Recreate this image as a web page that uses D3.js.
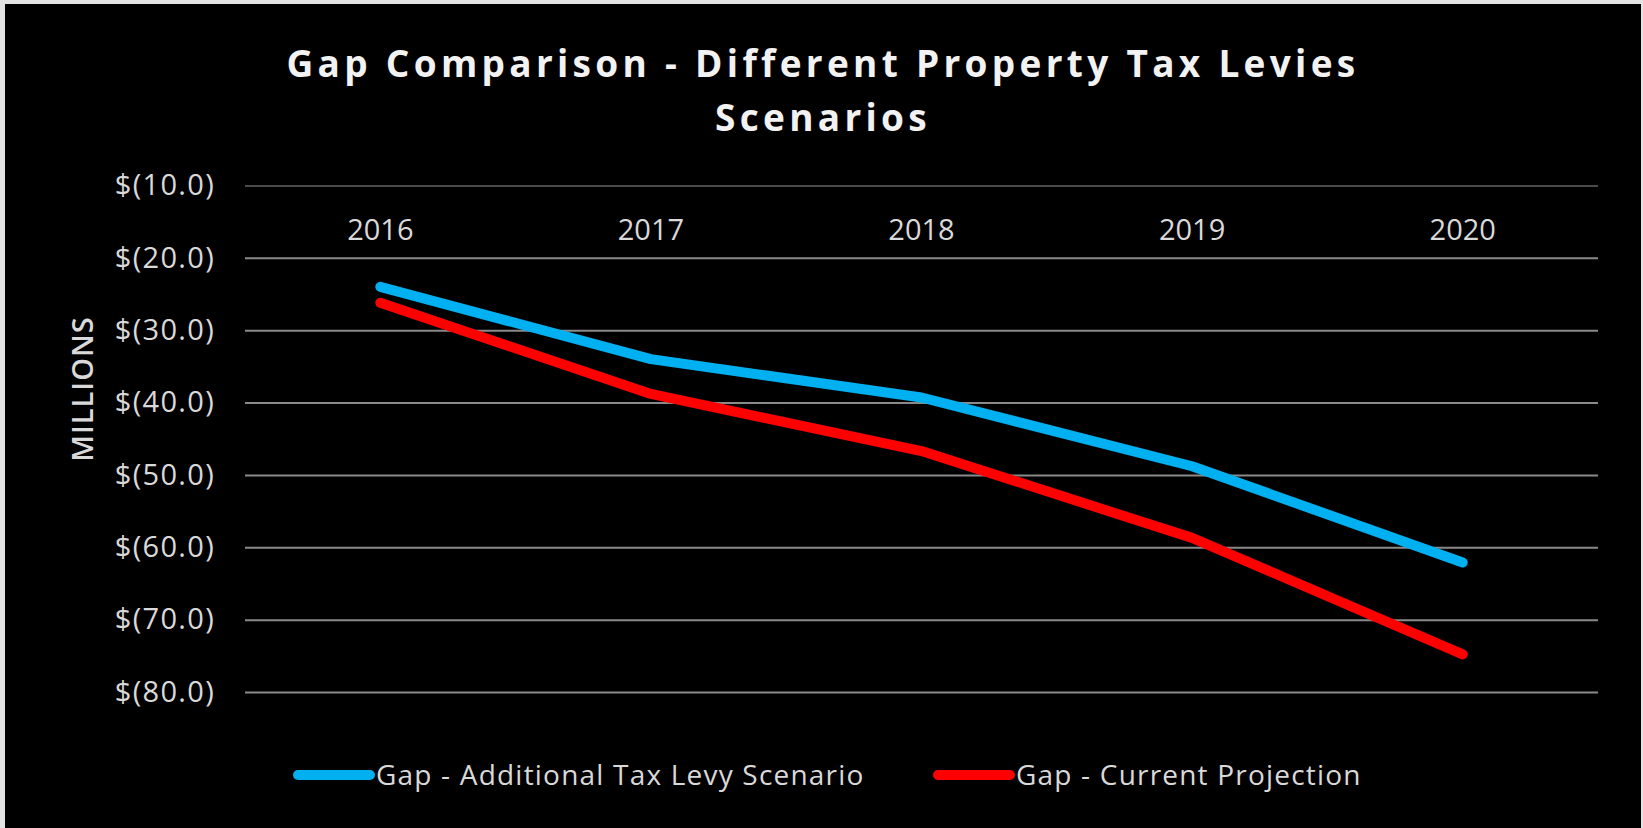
<!DOCTYPE html>
<html>
<head>
<meta charset="utf-8">
<script src="https://cdn.jsdelivr.net/npm/d3@7"></script>
<style>
  body { margin: 0; background: #e3e3e3; }
  svg { display: block; }
  text { font-family: "Open Sans", sans-serif; }
</style>
</head>
<body>
<div id="chart-area"></div>
<script>
// chart data
const years = ['2016', '2017', '2018', '2019', '2020'];
const additionalLevy = [-24.0, -34.0, -39.3, -48.8, -62.1];
const currentProjection = [-26.2, -38.8, -46.7, -58.7, -74.8];
const yTicks = [-10, -20, -30, -40, -50, -60, -70, -80];
const seriesNames = ['Gap - Additional Tax Levy Scenario', 'Gap - Current Projection'];
const titleLines = ['Gap Comparison - Different Property Tax Levies', 'Scenarios'];

const W = 1643, H = 828;

const svg = d3.select('#chart-area')
  .append('svg')
  .attr('width', W)
  .attr('height', H);

// black chart panel, thin light frame left / top / right
svg.append('rect')
  .attr('x', 5).attr('y', 4)
  .attr('width', W - 7).attr('height', H - 4)
  .attr('fill', '#000');

// plot area bounds
const plot = { left: 245, right: 1598, top: 185.5, bottom: 692 };

const x = d3.scaleBand()
  .domain(years)
  .range([plot.left, plot.right])
  .padding(0);

const y = d3.scaleLinear()
  .domain([-80, -10])
  .range([plot.bottom, plot.top]);

// title
svg.append('g')
  .selectAll('text')
  .data(titleLines)
  .enter()
  .append('text')
  .attr('x', 823)
  .attr('y', (d, i) => 77 + i * 54)
  .attr('text-anchor', 'middle')
  .attr('font-size', '37px')
  .attr('font-weight', 'bold')
  .attr('letter-spacing', '4.3px')
  .attr('fill', '#f2f2f2')
  .text(d => d);

// gridlines + y labels
const yAxisCall = d3.axisLeft(y)
  .tickValues(yTicks)
  .tickSize(-(plot.right - plot.left))
  .tickPadding(30)
  .tickFormat(d => '$(' + Math.abs(d).toFixed(1) + ')');

const yAxis = svg.append('g')
  .attr('class', 'y-axis')
  .attr('transform', 'translate(' + plot.left + ', 0)')
  .call(yAxisCall);

yAxis.select('.domain').remove();
yAxis.selectAll('line')
  .attr('stroke', d => d === -10 ? '#4a4a4a' : '#8a8a8a')
  .attr('stroke-width', 2);
yAxis.selectAll('text')
  .attr('font-size', '29px')
  .attr('letter-spacing', '1.3px')
  .attr('fill', '#d9d9d9')
  .attr('font-family', '"Open Sans", sans-serif');

// year labels sit just under the top line
const xAxisCall = d3.axisBottom(x).tickSize(0).tickPadding(0);
const xAxis = svg.append('g')
  .attr('class', 'x-axis')
  .attr('transform', 'translate(0, ' + plot.top + ')')
  .call(xAxisCall);
xAxis.select('.domain').remove();
xAxis.selectAll('text')
  .attr('y', 54)
  .attr('dy', 0)
  .attr('font-size', '29px')
  .attr('fill', '#d9d9d9')
  .attr('font-family', '"Open Sans", sans-serif');

// axis title
svg.append('text')
  .attr('transform', 'translate(93, 389) rotate(-90)')
  .attr('text-anchor', 'middle')
  .attr('font-size', '29px')
  .attr('font-weight', 600)
  .attr('letter-spacing', '1px')
  .attr('fill', '#d9d9d9')
  .text('MILLIONS');

// lines
const series = [
  { name: seriesNames[0], values: additionalLevy, color: '#00b0f0' },
  { name: seriesNames[1], values: currentProjection, color: '#ff0000' }
];

const line = d3.line()
  .x((d, i) => x(years[i]) + x.bandwidth() / 2)
  .y(d => y(d));

svg.append('g')
  .selectAll('path')
  .data(series)
  .enter()
  .append('path')
  .attr('d', d => line(d.values))
  .attr('fill', 'none')
  .attr('stroke', d => d.color)
  .attr('stroke-width', 10)
  .attr('stroke-linecap', 'round')
  .attr('stroke-linejoin', 'round');

// legend
const legendX = [294, 934];
const legend = svg.append('g')
  .selectAll('g')
  .data(series)
  .enter()
  .append('g')
  .attr('transform', (d, i) => 'translate(' + legendX[i] + ', 775)');

legend.append('line')
  .attr('x1', 4).attr('x2', 76)
  .attr('stroke', d => d.color)
  .attr('stroke-width', 10)
  .attr('stroke-linecap', 'round');

legend.append('text')
  .attr('x', 82)
  .attr('dy', '0.35em')
  .attr('font-size', '28px')
  .attr('letter-spacing', '1.2px')
  .attr('fill', '#d9d9d9')
  .text(d => d.name);
</script>
</body>
</html>
